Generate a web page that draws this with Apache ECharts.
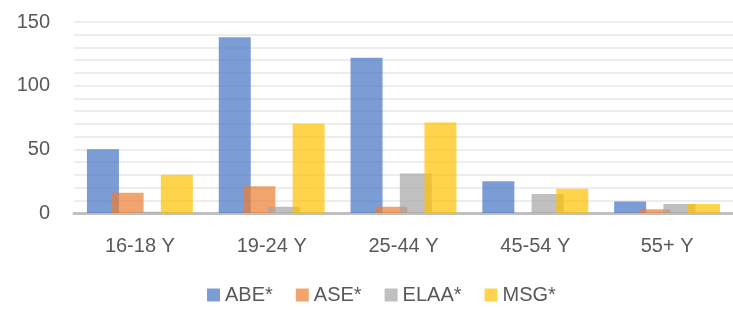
<!DOCTYPE html>
<html>
<head>
<meta charset="utf-8">
<script src="https://cdn.jsdelivr.net/npm/echarts@6/dist/echarts.min.js"></script>
<style>
  html, body { margin: 0; padding: 0; background: #fff; }
  #chart { width: 733px; height: 310px; }
</style>
</head>
<body>
<div id="chart"></div>
<script>
// categories and series values
const ageGroups = ['16-18 Y', '19-24 Y', '25-44 Y', '45-54 Y', '55+ Y'];
const abe  = [50, 138, 122, 25, 9];
const ase  = [16, 21, 5, 0, 3];
const elaa = [1, 5, 31, 15, 7];
const msg  = [30, 70, 71, 19, 7];

const seriesNames = ['ABE*', 'ASE*', 'ELAA*', 'MSG*'];
const colors = ['#4472C4', '#ED7D31', '#A5A5A5', '#FFC000'];

const chart = echarts.init(document.getElementById('chart'));

function makeBar(name, data, color) {
  return {
    name: name,
    type: 'bar',
    data: data,
    barWidth: 32,
    barGap: '-23%',
    itemStyle: { color: color, opacity: 0.7 }
  };
}

const option = {
  animation: false,
  textStyle: { fontFamily: 'Liberation Sans, sans-serif' },
  grid: { left: 74, right: -3, top: 22, bottom: 97, containLabel: false },
  legend: {
    bottom: 0,
    left: 202,
    itemWidth: 13,
    itemHeight: 13,
    itemGap: 23,
    icon: 'rect',
    textStyle: { fontSize: 20, color: '#595959' },
    data: seriesNames
  },
  xAxis: {
    type: 'category',
    data: ageGroups,
    axisLine: { lineStyle: { color: '#BFBFBF', width: 3 } },
    axisTick: { show: false },
    axisLabel: { fontSize: 20, color: '#595959', margin: 23 }
  },
  yAxis: {
    type: 'value',
    min: 0,
    max: 150,
    interval: 50,
    axisLine: { show: false },
    axisTick: { show: false },
    axisLabel: { fontSize: 20, color: '#595959', margin: 24 },
    splitLine: { lineStyle: { color: '#EDEDED', width: 2 } },
    minorTick: { show: false, splitNumber: 5 },
    minorSplitLine: { show: true, lineStyle: { color: '#EDEDED', width: 2 } }
  },
  series: [
    makeBar(seriesNames[0], abe, colors[0]),
    makeBar(seriesNames[1], ase, colors[1]),
    makeBar(seriesNames[2], elaa, colors[2]),
    makeBar(seriesNames[3], msg, colors[3])
  ]
};

chart.setOption(option);
</script>
</body>
</html>
